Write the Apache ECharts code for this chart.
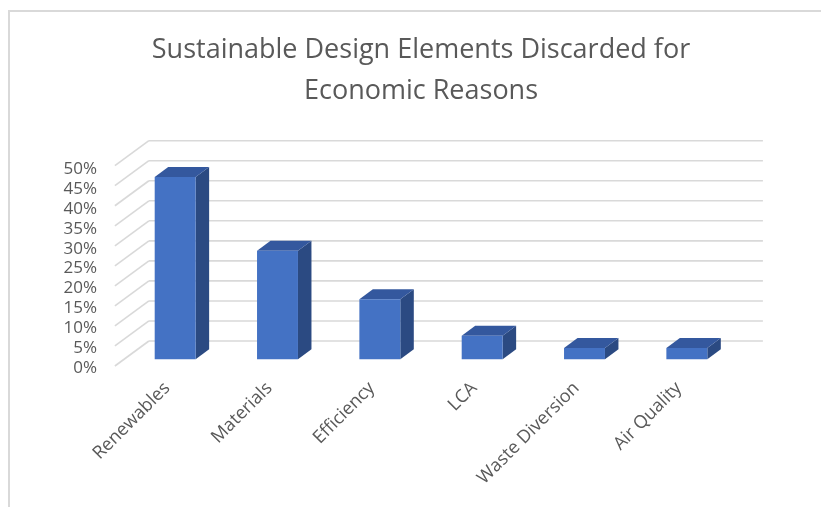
<!DOCTYPE html>
<html><head><meta charset="utf-8">
<script src="https://cdn.jsdelivr.net/npm/echarts@6/dist/echarts.min.js"></script>
<style>html,body{margin:0;padding:0;background:#fff}#c{width:821px;height:507px}</style>
</head><body><div id="c"></div><script>
const categories = ['Renewables','Materials','Efficiency','LCA','Waste Diversion','Air Quality'];
const values = [0.455, 0.271, 0.150, 0.059, 0.028, 0.028];
const yTicks = [0, 0.05, 0.10, 0.15, 0.20, 0.25, 0.30, 0.35, 0.40, 0.45, 0.50];
const titleText = 'Sustainable Design Elements Discarded for\nEconomic Reasons';

const FONT = '"Open Sans", sans-serif';
const TXT = '#595959';
const GRIDC = '#d9d9d9';
const FRONT = [-9.1, 6.7], BACK = [24.9, -18.3], BARD = [13.5, -10];
const C_FRONT = '#4472C4', C_TOP = '#34589E', C_SIDE = '#2B4A82';

const chart = echarts.init(document.getElementById('c'), null, {renderer: 'canvas'});
chart.setOption({
  animation: false,
  backgroundColor: '#fff',
  title: {
    text: titleText, left: 416, top: 25, textAlign: 'center',
    textStyle: {fontFamily: FONT, fontSize: 27, fontWeight: 'normal', color: TXT, lineHeight: 41}
  },
  graphic: [
    {type: 'line', shape: {x1: 9, y1: 11, x2: 821, y2: 11}, style: {stroke: GRIDC, lineWidth: 2}},
    {type: 'line', shape: {x1: 9, y1: 10, x2: 9, y2: 507}, style: {stroke: GRIDC, lineWidth: 2}}
  ],
  grid: [
    {left: 124, right: 83, top: 159.0, bottom: 147.7},
    {left: 104, right: 83, top: 169, bottom: 138.7},
    {left: 116, right: 91, top: 159.0, bottom: 147.7}
  ],
  xAxis: [
    {type: 'category', gridIndex: 0, data: categories, show: false},
    {type: 'category', gridIndex: 1, data: categories, show: false},
    {type: 'category', gridIndex: 2, data: categories,
     axisLine: {show: false}, axisTick: {show: false},
     axisLabel: {rotate: 45, margin: 26, interval: 0, fontFamily: FONT, fontSize: 18, color: TXT}}
  ],
  yAxis: [
    {type: 'value', gridIndex: 0, min: 0, max: 0.5, interval: 0.05, show: false, splitLine: {show: false}},
    {type: 'value', gridIndex: 1, min: 0, max: 0.5, interval: 0.05,
     axisLine: {show: false}, axisTick: {show: false}, splitLine: {show: false},
     axisLabel: {margin: 7, fontFamily: FONT, fontSize: 17, color: TXT,
                 formatter: v => Math.round(v * 100) + '%'}},
    {type: 'value', gridIndex: 2, min: 0, max: 0.5, show: false, splitLine: {show: false}}
  ],
  series: [
    {
      type: 'custom', xAxisIndex: 0, yAxisIndex: 0, silent: true, z: 1,
      data: yTicks.map(v => [0, v]),
      encode: {x: 0, y: 1},
      renderItem(params, api) {
        const cs = params.coordSys;
        const y = api.coord([0, api.value(1)])[1];
        const x0 = cs.x, x1 = cs.x + cs.width;
        const st = {stroke: GRIDC, lineWidth: 1.6};
        return {type: 'group', children: [
          {type: 'line', shape: {x1: x0 + BACK[0], y1: y + BACK[1], x2: x1 + BACK[0], y2: y + BACK[1]}, style: st},
          {type: 'line', shape: {x1: x0 + FRONT[0], y1: y + FRONT[1], x2: x0 + BACK[0], y2: y + BACK[1]}, style: st}
        ]};
      }
    },
    {
      type: 'custom', xAxisIndex: 0, yAxisIndex: 0, z: 2,
      data: values.map((v, i) => [i, v]),
      encode: {x: 0, y: 1},
      renderItem(params, api) {
        const i = api.value(0), v = api.value(1);
        const top = api.coord([i, v]), base = api.coord([i, 0]);
        const w = api.size([1, 0])[0] * 0.4;
        const l = top[0] - w / 2, r = top[0] + w / 2, t = top[1], b = base[1];
        const dx = BARD[0], dy = BARD[1];
        return {type: 'group', children: [
          {type: 'polygon', shape: {points: [[r, t], [r + dx, t + dy], [r + dx, b + dy], [r, b]]}, style: {fill: C_SIDE}},
          {type: 'polygon', shape: {points: [[l, t], [l + dx, t + dy], [r + dx, t + dy], [r, t]]}, style: {fill: C_TOP}},
          {type: 'rect', shape: {x: l, y: t, width: w, height: b - t}, style: {fill: C_FRONT}}
        ]};
      }
    }
  ]
});
</script></body></html>
